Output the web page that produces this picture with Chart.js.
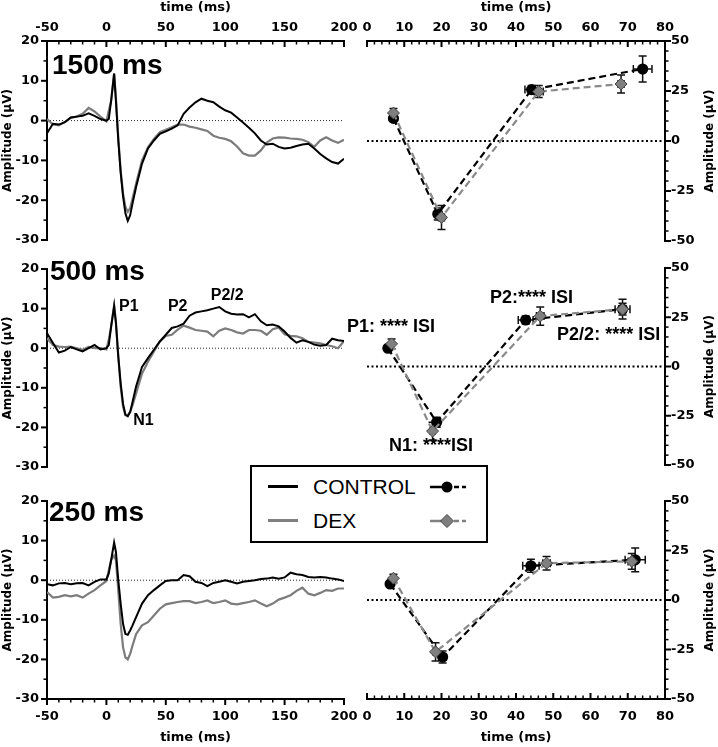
<!DOCTYPE html>
<html>
<head>
<meta charset="utf-8">
<title>ERP waveforms and peaks by ISI</title>
<script src="https://cdn.jsdelivr.net/npm/chart.js@4.4.1/dist/chart.umd.min.js"></script>
<style>
  body { margin: 0; background: #fff; }
  #wrap { position: relative; width: 718px; height: 747px; overflow: hidden; }
  #wrap canvas { position: absolute; left: 0; top: 0; }
  #legend {
    position: absolute; left: 250px; top: 465px; width: 234px; height: 74px;
    border: 2px solid #000; background: #fff;
    font: 21px 'Liberation Sans', Arial, sans-serif; color: #000;
  }
  #legend .sw { position: absolute; left: 16px; width: 30px; height: 3px; }
  #legend .txt { position: absolute; left: 61px; line-height: 24px; }
  #legend svg { position: absolute; left: 178px; }
</style>
</head>
<body>
<div id="wrap">
  <canvas id="wave1500" width="718" height="747"></canvas>
  <canvas id="wave500" width="718" height="747"></canvas>
  <canvas id="wave250" width="718" height="747"></canvas>
  <canvas id="peak1500" width="718" height="747"></canvas>
  <canvas id="peak500" width="718" height="747"></canvas>
  <canvas id="peak250" width="718" height="747"></canvas>
  <div id="legend">
    <div class="sw" style="top:18px;background:#000"></div>
    <div class="txt" style="top:8px">CONTROL</div>
    <svg width="36" height="14" style="top:13px">
      <line x1="0" y1="7" x2="12" y2="7" stroke="#000" stroke-width="2.5"/>
      <circle cx="17" cy="7" r="5.5" fill="#000"/>
      <line x1="24" y1="7" x2="36" y2="7" stroke="#000" stroke-width="2.5" stroke-dasharray="5 3"/>
    </svg>
    <div class="sw" style="top:52px;background:#808080"></div>
    <div class="txt" style="top:42px">DEX</div>
    <svg width="36" height="16" style="top:46px">
      <line x1="0" y1="8" x2="12" y2="8" stroke="#808080" stroke-width="2.5"/>
      <polygon points="17,1.5 23.5,8 17,14.5 10.5,8" fill="#7f7f7f" stroke="#444" stroke-width="1"/>
      <line x1="24" y1="8" x2="36" y2="8" stroke="#808080" stroke-width="2.5" stroke-dasharray="5 3"/>
    </svg>
  </div>
</div>
<script>
// grand-average waveforms, sampled from the figure (ms / uV)
const waveTime = [-50, -45, -40, -35, -30, -25, -20, -15, -10, -5,
  0, 2, 4, 6.5, 8, 10, 12, 14, 16, 18, 20, 22, 25,
  30, 35, 40, 45, 50, 55, 60, 65, 70, 75, 80, 85, 90, 95, 100, 105, 110, 115, 120,
  125, 130, 135, 140, 145, 150, 155, 160, 165, 170, 175, 180, 185, 190, 195, 200];

const ctl1500 = [-3.2, -0.8, -1, -0.4, 0.8, 1, 1.2, 1.8, 1.2, 0.4,
  0, 0.4, 5, 11.8, 5, -5, -13, -19, -23.3, -25.2, -23.8, -20.8, -16.7,
  -10.8, -7, -5, -3.3, -2.7, -2, -1.2, 1.7, 3.3, 4.6, 5.5, 5, 4.6, 3.5, 2.6, 2, 0.8, -0.5, -1.8,
  -3.2, -5, -6, -5.8, -6.6, -7, -6.8, -6.4, -6, -5.8, -7, -8.4, -9.5, -10.4, -10.8, -9.6];
const dex1500 = [0.4, -1, -1.2, -0.4, 0.7, 1, 1.7, 3.2, 2.3, 1,
  -0.2, 2.5, 5, 11.8, 5.8, -4.2, -12.5, -18.3, -21.7, -22.9, -22, -19.6, -15.8,
  -10, -6.7, -4.6, -2.9, -2.3, -1.7, -1, -1, -1.5, -1.8, -2.2, -2.6, -3.8, -4.3, -4.6, -5.2, -6.5, -8.2, -8.8,
  -8.8, -7.5, -5.5, -4.5, -4.2, -4.3, -4.5, -4.6, -4.8, -5.4, -6.6, -5, -4.2, -5, -5.6, -4.8];

const ctl500 = [3.8, 1.3, -1.1, -0.6, 0.3, -0.3, -0.8, 0, 0.8, -0.3,
  0, 0.8, 5.5, 10.6, 6.4, -2.1, -8.9, -14, -16.8, -17.2, -16.1, -13.6, -9.7,
  -4.7, -2.5, -0.4, 1.7, 3.4, 5.1, 5.5, 6.2, 8.2, 9, 9.3, 9.6, 10, 10.4, 9.3, 8.7, 8.5, 8.6, 7.8,
  8.6, 6.8, 5.8, 6, 5.5, 4.2, 2.6, 1.4, 2, 1.6, 0.9, 0.6, 0.8, 2.4, 2, 1.8];
const dex500 = [2.5, 0.8, 0.4, 0.3, 0.4, 0, -0.4, 0.3, 0, 0,
  -0.3, 2.1, 5.5, 10.8, 6.8, -2.1, -9.7, -14.8, -16.9, -16.9, -16.1, -14.4, -11.4,
  -6.4, -3.4, -0.8, 1.7, 3.1, 3.4, 4.7, 5.7, 5.2, 4.6, 4.4, 4.2, 3, 4.4, 5, 4.6, 4, 3.7, 4.6,
  4.6, 4.4, 3.4, 4.8, 5.2, 3.5, 3.1, 3, 2.5, 1.6, 1.4, 1.2, 0.8, 0.5, 0, 1.8];

const ctl250 = [-1, -1.3, -0.8, -0.7, -1, -0.8, -0.7, -1.3, -0.4, 0.2,
  0.2, 1.7, 5.1, 9.5, 7.2, 0, -5.9, -11, -13.6, -13.8, -12.7, -11.4, -9.3,
  -5.9, -3.8, -2.5, -1.3, -0.2, 0, 0, 1.3, 1, -0.4, -0.7, -1.5, -0.7, -0.4, 0, -0.4, -0.8, -0.4, -0.2,
  0, 0.3, 0.4, 0.7, 0.4, 0.7, 1.9, 1.5, 1.3, 0.8, 0.7, 0.8, 0.7, 0.4, 0.2, -0.2];
const dex250 = [-3, -4.4, -4.2, -3.8, -4.1, -3.8, -4.4, -3.4, -2.5, -1.3,
  -0.2, 2.5, 5.1, 6.2, 5.1, -2.5, -11, -16.9, -19.5, -20, -18.6, -16.5, -13.6,
  -11.4, -10.6, -8.9, -7.2, -6.1, -5.8, -5.5, -5.3, -5.3, -5.8, -5.5, -5.1, -5.8, -5.5, -5.1, -5.9, -6.1, -5.8, -5.5,
  -5.1, -5.9, -6.6, -5.9, -4.9, -4.4, -3.8, -2.7, -1.9, -3.4, -3.8, -3.2, -2.5, -2.7, -2.1, -2.1];

// peak latency (ms) / amplitude (uV) with SEM, order P1, N1, P2, P2/2
const ctl1500Lat = [7.1, 19.0, 44.2, 74.0];
const ctl1500Amp = [11.3, -36.5, 25.7, 36.0];
const ctl1500LatErr = [0.5, 0.8, 1.8, 2.5];
const ctl1500AmpErr = [1.5, 3, 2, 6.5];
const dex1500Lat = [7.1, 20.0, 46.1, 68.2];
const dex1500Amp = [14.0, -38.2, 24.7, 28.5];
const dex1500LatErr = [0.5, 0.8, 1.2, 0.8];
const dex1500AmpErr = [2.3, 6, 3, 4.5];

const ctl500Lat = [5.6, 18.7, 42.6, 68.6];
const ctl500Amp = [9.3, -28.3, 23.6, 29.1];
const ctl500LatErr = [0.4, 0.8, 2, 2];
const ctl500AmpErr = [1, 2.5, 2, 3];
const dex500Lat = [6.6, 17.6, 46.5, 68.6];
const dex500Amp = [11.5, -32.8, 25.6, 29.1];
const dex500LatErr = [0.4, 0.6, 1, 1];
const dex500AmpErr = [2.5, 4.5, 4.6, 5];

const ctl250Lat = [6.2, 20.3, 44.0, 72.0];
const ctl250Amp = [8.1, -28.8, 17.3, 20.3];
const ctl250LatErr = [0.4, 1, 2.2, 2.7];
const ctl250AmpErr = [1, 3, 3.3, 6];
const dex250Lat = [7.1, 18.4, 48.2, 71.1];
const dex250Amp = [11.0, -26.2, 18.6, 19.5];
const dex250LatErr = [0.4, 0.6, 1, 1];
const dex250AmpErr = [2, 4.6, 3.4, 4];

const W = 718, H = 747;
const tickFont = { family: "'DejaVu Sans', sans-serif", size: 13, weight: 'bold' };
const titleFont = { family: "'DejaVu Sans', sans-serif", size: 13, weight: 'bold' };
const bigFont = "bold 28px 'Liberation Sans', Arial, sans-serif";
const peakFont = "bold 16px 'Liberation Sans', Arial, sans-serif";
const isiFont = "bold 18px 'Liberation Sans', Arial, sans-serif";

Chart.defaults.color = '#000';
Chart.defaults.animation = false;
Chart.defaults.plugins.legend.display = false;
Chart.defaults.plugins.tooltip.enabled = false;

// extra drawing per canvas: tick marks, zero line, text labels
const decorations = {};

const tickMarks = {
    id: 'tickMarks',
    afterDraw(chart) {
        const deco = decorations[chart.canvas.id];
        if (!deco) return;
        const ctx = chart.ctx;
        const area = chart.chartArea;
        ctx.save();
        ctx.strokeStyle = '#000';
        deco.ticks.forEach(t => {
            const s = chart.scales[t.id];
            const n = Math.round((s.max - s.min) / t.minor);
            const sign = t.inward ? -1 : 1;
            for (let k = 0; k <= n; k++) {
                const v = s.min + k * t.minor;
                const major = Math.abs(v / t.major - Math.round(v / t.major)) < 1e-6;
                const len = major ? 6 : 3.5;
                const p = s.getPixelForValue(v);
                ctx.lineWidth = major ? 2 : 1.5;
                ctx.beginPath();
                if (s.position === 'left') { ctx.moveTo(area.left, p); ctx.lineTo(area.left - sign * len, p); }
                else if (s.position === 'right') { ctx.moveTo(area.right, p); ctx.lineTo(area.right + sign * len, p); }
                else if (s.position === 'top') { ctx.moveTo(p, area.top); ctx.lineTo(p, area.top - sign * len); }
                else { ctx.moveTo(p, area.bottom); ctx.lineTo(p, area.bottom + sign * len); }
                ctx.stroke();
            }
        });
        ctx.restore();
    }
};

const zeroLine = {
    id: 'zeroLine',
    beforeDatasetsDraw(chart) {
        const deco = decorations[chart.canvas.id];
        if (!deco || !deco.zero) return;
        const ctx = chart.ctx;
        const y = chart.scales.y.getPixelForValue(0);
        ctx.save();
        ctx.setLineDash(deco.zero.dash);
        ctx.lineWidth = deco.zero.width;
        ctx.strokeStyle = deco.zero.color;
        ctx.beginPath();
        ctx.moveTo(chart.chartArea.left, y);
        ctx.lineTo(chart.chartArea.right, y);
        ctx.stroke();
        ctx.restore();
    }
};

const errorBars = {
    id: 'errorBars',
    beforeDatasetsDraw(chart) {
        const ctx = chart.ctx;
        const xs = chart.scales.x, ys = chart.scales.y;
        ctx.save();
        ctx.strokeStyle = '#111';
        ctx.lineWidth = 1.5;
        chart.data.datasets.forEach(ds => {
            if (!ds.yErr) return;
            ds.data.forEach((pt, j) => {
                const px = xs.getPixelForValue(pt.x), py = ys.getPixelForValue(pt.y);
                const y1 = ys.getPixelForValue(pt.y + ds.yErr[j]), y2 = ys.getPixelForValue(pt.y - ds.yErr[j]);
                const x1 = xs.getPixelForValue(pt.x - ds.xErr[j]), x2 = xs.getPixelForValue(pt.x + ds.xErr[j]);
                ctx.beginPath();
                ctx.moveTo(px, y1); ctx.lineTo(px, y2);
                ctx.moveTo(px - 4, y1); ctx.lineTo(px + 4, y1);
                ctx.moveTo(px - 4, y2); ctx.lineTo(px + 4, y2);
                ctx.moveTo(x1, py); ctx.lineTo(x2, py);
                ctx.moveTo(x1, py - 4); ctx.lineTo(x1, py + 4);
                ctx.moveTo(x2, py - 4); ctx.lineTo(x2, py + 4);
                ctx.stroke();
            });
        });
        ctx.restore();
    }
};

const notes = {
    id: 'notes',
    afterDraw(chart) {
        const deco = decorations[chart.canvas.id];
        if (!deco) return;
        const ctx = chart.ctx;
        ctx.save();
        ctx.fillStyle = '#000';
        ctx.textBaseline = 'middle';
        (deco.notes || []).forEach(n => {
            ctx.font = n.font;
            ctx.textAlign = n.align || 'left';
            ctx.fillText(n.text, chart.scales.x.getPixelForValue(n.x), chart.scales.y.getPixelForValue(n.y));
        });
        if (deco.sideTitle) {
            const a = chart.chartArea;
            ctx.font = "bold 12px 'DejaVu Sans', sans-serif";
            ctx.textAlign = 'center';
            ctx.translate(a.right + 45, (a.top + a.bottom) / 2);
            ctx.rotate(-Math.PI / 2);
            ctx.fillText(deco.sideTitle, 0, 0);
        }
        ctx.restore();
    }
};

Chart.register(tickMarks, zeroLine, errorBars, notes);

function axisBorder() {
    return { display: true, color: '#000', width: 2 };
}

function xAxisHeight(xPos) {
    if (xPos === 'top') return 41;
    if (xPos === 'bottom') return 48;
    return 0;
}

function makeWave(id, ctl, dex, top, bottom, xPos, noteList) {
    decorations[id] = {
        ticks: xPos ? [{ id: 'y', major: 10, minor: 5 }, { id: 'x', major: 50, minor: 10, inward: xPos === 'top' }]
                    : [{ id: 'y', major: 10, minor: 5 }],
        zero: { dash: [1, 2], width: 1, color: '#222' },
        notes: noteList
    };
    new Chart(document.getElementById(id), {
        type: 'line',
        data: {
            datasets: [
                { label: 'CONTROL', data: waveTime.map((t, i) => ({ x: t, y: ctl[i] })),
                  borderColor: '#000', borderWidth: 2, pointRadius: 0, order: 0 },
                { label: 'DEX', data: waveTime.map((t, i) => ({ x: t, y: dex[i] })),
                  borderColor: '#7c7c7c', borderWidth: 2.2, pointRadius: 0, order: 1 }
            ]
        },
        options: {
            responsive: false,
            layout: { padding: { left: 0, right: W - 344, top: xPos === 'top' ? 0 : top, bottom: xPos === 'bottom' ? 0 : H - bottom } },
            scales: {
                x: {
                    type: 'linear', position: xPos || 'bottom', display: !!xPos, min: -50, max: 200,
                    ticks: { stepSize: 50, padding: xPos === 'top' ? 6 : 10, font: tickFont, maxRotation: 0, autoSkip: false },
                    grid: { display: false, drawTicks: false },
                    border: axisBorder(),
                    title: { display: true, text: 'time (ms)', font: titleFont, padding: { top: 0, bottom: 2 } },
                    afterFit: s => { s.height = xAxisHeight(xPos); }
                },
                y: {
                    position: 'left', min: -30, max: 20,
                    ticks: { stepSize: 10, padding: 8, font: tickFont },
                    grid: { display: false, drawTicks: false },
                    border: axisBorder(),
                    title: { display: true, text: 'Amplitude (\u03bcV)', font: { family: "'DejaVu Sans', sans-serif", size: 12, weight: 'bold' }, padding: { top: 1, bottom: 0 } },
                    afterFit: s => { s.width = 47; }
                }
            }
        }
    });
}

function makePeaks(id, c, d, top, bottom, xPos, noteList) {
    decorations[id] = {
        ticks: xPos ? [{ id: 'y', major: 25, minor: 5 }, { id: 'x', major: 10, minor: 2, inward: true }]
                    : [{ id: 'y', major: 25, minor: 5 }],
        zero: { dash: [2, 2.5], width: 2, color: '#000' },
        notes: noteList,
        sideTitle: 'Amplitude (\u03bcV)'
    };
    new Chart(document.getElementById(id), {
        type: 'line',
        data: {
            datasets: [
                { label: 'CONTROL', data: c.lat.map((t, i) => ({ x: t, y: c.amp[i] })), xErr: c.latErr, yErr: c.ampErr,
                  borderColor: '#000', borderWidth: 2.2, borderDash: [7, 4],
                  pointStyle: 'circle', pointRadius: 4.5, pointBackgroundColor: '#000', pointBorderColor: '#000', order: 1 },
                { label: 'DEX', data: d.lat.map((t, i) => ({ x: t, y: d.amp[i] })), xErr: d.latErr, yErr: d.ampErr,
                  borderColor: '#8a8a8a', borderWidth: 2.2, borderDash: [7, 4],
                  pointStyle: 'rectRot', pointRadius: 6, pointBackgroundColor: '#7f7f7f', pointBorderColor: '#444', pointBorderWidth: 1, order: 0 }
            ]
        },
        options: {
            responsive: false,
            layout: { padding: { left: 367, right: 13, top: xPos === 'top' ? 0 : top, bottom: xPos === 'bottom' ? 0 : H - bottom } },
            scales: {
                x: {
                    type: 'linear', position: xPos || 'bottom', display: !!xPos, min: 0, max: 80,
                    ticks: { stepSize: 10, padding: xPos === 'top' ? 6 : 10, font: tickFont, maxRotation: 0, autoSkip: false },
                    grid: { display: false, drawTicks: false },
                    border: axisBorder(),
                    title: { display: true, text: 'time (ms)', font: titleFont, padding: { top: 0, bottom: 2 } },
                    afterFit: s => { s.height = xAxisHeight(xPos); }
                },
                y: {
                    position: 'right', min: -50, max: 50,
                    ticks: { stepSize: 25, padding: 6, font: tickFont },
                    grid: { display: false, drawTicks: false },
                    border: axisBorder(),
                    title: { display: false },
                    afterFit: s => { s.width = 40; }
                }
            }
        }
    });
}

makeWave('wave1500', ctl1500, dex1500, 41, 240, 'top', [
    { text: '1500 ms', x: -45.8, y: 13.6, font: bigFont }
]);
makeWave('wave500', ctl500, dex500, 269, 467, null, [
    { text: '500 ms', x: -47.5, y: 19.2, font: bigFont },
    { text: 'P1', x: 10.6, y: 10.4, font: peakFont },
    { text: 'N1', x: 22.6, y: -18.2, font: peakFont },
    { text: 'P2', x: 51.8, y: 10.4, font: peakFont },
    { text: 'P2/2', x: 87.8, y: 13.2, font: peakFont }
]);
makeWave('wave250', ctl250, dex250, 501, 699, 'bottom', [
    { text: '250 ms', x: -48.3, y: 17, font: bigFont }
]);

makePeaks('peak1500',
    { lat: ctl1500Lat, amp: ctl1500Amp, latErr: ctl1500LatErr, ampErr: ctl1500AmpErr },
    { lat: dex1500Lat, amp: dex1500Amp, latErr: dex1500LatErr, ampErr: dex1500AmpErr },
    41, 241, 'top', []);
makePeaks('peak500',
    { lat: ctl500Lat, amp: ctl500Amp, latErr: ctl500LatErr, ampErr: ctl500AmpErr },
    { lat: dex500Lat, amp: dex500Amp, latErr: dex500LatErr, ampErr: dex500AmpErr },
    268, 465, null, [
        { text: 'P1: **** ISI', x: -5.4, y: 20, font: isiFont },
        { text: 'P2:**** ISI', x: 33, y: 34.7, font: isiFont },
        { text: 'P2/2: **** ISI', x: 78.7, y: 16, font: isiFont, align: 'right' },
        { text: 'N1: ****ISI', x: 5.9, y: -40.6, font: isiFont }
    ]);
makePeaks('peak250',
    { lat: ctl250Lat, amp: ctl250Amp, latErr: ctl250LatErr, ampErr: ctl250AmpErr },
    { lat: dex250Lat, amp: dex250Amp, latErr: dex250LatErr, ampErr: dex250AmpErr },
    501, 699, 'bottom', []);
</script>
</body>
</html>
